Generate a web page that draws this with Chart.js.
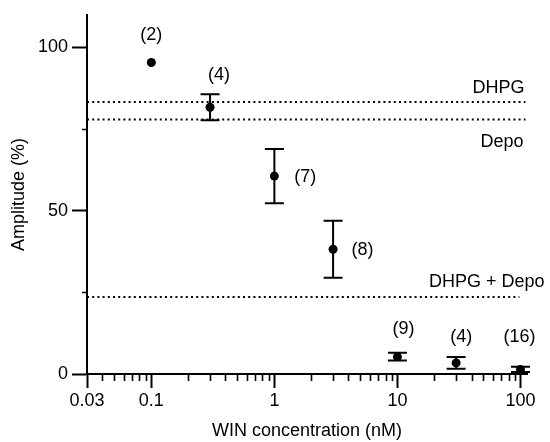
<!DOCTYPE html>
<html>
<head>
<meta charset="utf-8">
<script src="https://cdn.jsdelivr.net/npm/chart.js@4/dist/chart.umd.min.js"></script>
<style>
  html, body { margin: 0; padding: 0; background: #fff; }
  #wrap { width: 550px; height: 442px; }
</style>
</head>
<body>
<div id="wrap"><canvas id="c" width="550" height="442"></canvas></div>
<script>
// ---- data ----
const concentrations = [0.1, 0.3, 1, 3, 10, 30, 100];          // nM
const amplitudes     = [95.4, 81.7, 60.6, 38.2, 5.3, 3.4, 1.4];  // %
const errors         = [null, 4.0, 8.3, 8.7, 1.2, 1.8, 0.8];     // +/- %
const countLabels    = ['(2)', '(4)', '(7)', '(8)', '(9)', '(4)', '(16)'];
const countLabelX    = [0.1, 0.355, 1.78, 5.2, 11.2, 33, 98];
const countLabelY    = [103.9, 91.5, 60.2, 37.9, 13.9, 11.2, 11.2];

const refNames   = ['DHPG', 'Depo', 'DHPG + Depo'];
const refValues  = [83.3, 77.9, 23.6];
const refLineEnd = [110, 110, 98];
const refLabelX  = [108, 106, 157];
const refLabelY  = [87.6, 70.9, 28.2];

const xTickValues  = [0.03, 0.1, 1, 10, 100];
const xTickLabels  = ['0.03', '0.1', '1', '10', '100'];
const xMinorTicks  = [0.04, 0.05, 0.06, 0.07, 0.08, 0.09,
                      0.2, 0.3, 0.4, 0.5, 0.6, 0.7, 0.8, 0.9,
                      2, 3, 4, 5, 6, 7, 8, 9,
                      20, 30, 40, 50, 60, 70, 80, 90];
const yTickValues  = [0, 50, 100];
const yTickLabels  = ['0', '50', '100'];
const yMinorTicks  = [25, 75];

// ---- chart ----
const FONT = "'Liberation Sans', Arial, Helvetica, sans-serif";
Chart.defaults.font.family = FONT;
Chart.defaults.color = '#000';

const refDatasets = refValues.map((v, i) => ({
  type: 'line',
  label: refNames[i],
  data: [{x: 0.03, y: v}, {x: refLineEnd[i], y: v}],
  borderColor: '#000',
  borderWidth: 2,
  borderDash: [2, 3.2],
  pointRadius: 0,
  fill: false
}));

const extrasPlugin = {
  id: 'extras',
  afterDatasetsDraw(chart) {
    const ctx = chart.ctx;
    const xs = chart.scales.x, ys = chart.scales.y;
    ctx.save();
    // error bars
    ctx.strokeStyle = '#000';
    ctx.lineWidth = 2;
    const cap = 9.5;
    concentrations.forEach((c, i) => {
      const e = errors[i];
      if (e == null) return;
      const px = xs.getPixelForValue(c);
      const top = ys.getPixelForValue(amplitudes[i] + e);
      const bot = ys.getPixelForValue(amplitudes[i] - e);
      ctx.beginPath();
      ctx.moveTo(px, top); ctx.lineTo(px, bot);
      ctx.moveTo(px - cap, top); ctx.lineTo(px + cap, top);
      ctx.moveTo(px - cap, bot); ctx.lineTo(px + cap, bot);
      ctx.stroke();
    });
    // n labels
    ctx.fillStyle = '#000';
    ctx.font = '18px ' + FONT;
    ctx.textAlign = 'center';
    ctx.textBaseline = 'middle';
    countLabels.forEach((t, i) => {
      ctx.fillText(t, xs.getPixelForValue(countLabelX[i]), ys.getPixelForValue(countLabelY[i]));
    });
    // reference line labels
    ctx.textAlign = 'right';
    refNames.forEach((t, i) => {
      ctx.fillText(t, xs.getPixelForValue(refLabelX[i]), ys.getPixelForValue(refLabelY[i]));
    });
    ctx.restore();
  },
  afterDraw(chart) {
    const ctx = chart.ctx;
    const xs = chart.scales.x, ys = chart.scales.y;
    const area = chart.chartArea;
    ctx.save();
    ctx.strokeStyle = '#000';
    ctx.lineWidth = 1.6;
    ctx.beginPath();
    xMinorTicks.forEach(v => {
      const px = Math.round(xs.getPixelForValue(v)) + 0.5;
      ctx.moveTo(px, area.bottom);
      ctx.lineTo(px, area.bottom + 7);
    });
    yMinorTicks.forEach(v => {
      const py = Math.round(ys.getPixelForValue(v)) + 0.5;
      ctx.moveTo(area.left, py);
      ctx.lineTo(area.left - 5, py);
    });
    ctx.stroke();
    ctx.restore();
  }
};

new Chart(document.getElementById('c'), {
  data: {
    datasets: [
      {
        type: 'scatter',
        label: 'Amplitude',
        data: concentrations.map((c, i) => ({x: c, y: amplitudes[i]})),
        backgroundColor: '#000',
        borderColor: '#000',
        borderWidth: 0,
        pointRadius: 4.5,
        showLine: false
      },
      ...refDatasets
    ]
  },
  options: {
    responsive: false,
    devicePixelRatio: 1,
    animation: false,
    layout: { padding: { top: 10, right: 23, left: 0, bottom: 0 } },
    plugins: { legend: { display: false }, tooltip: { enabled: false } },
    scales: {
      x: {
        type: 'logarithmic',
        position: 'bottom',
        min: 0.03,
        max: 113,
        afterBuildTicks: s => { s.ticks = xTickValues.map(v => ({value: v})); },
        afterFit: s => { s.height = 68; },
        ticks: {
          autoSkip: false,
          maxRotation: 0,
          padding: 2,
          color: '#000',
          font: { size: 18 },
          callback: (v, i) => xTickLabels[i]
        },
        grid: { display: true, drawOnChartArea: false, drawTicks: true, tickLength: 14, tickWidth: 2, tickColor: '#000' },
        border: { display: true, width: 2, color: '#000' },
        title: { display: true, text: 'WIN concentration (nM)', color: '#000', font: { size: 18 }, padding: { top: 0, bottom: 0 } }
      },
      y: {
        type: 'linear',
        min: 0,
        max: 110,
        afterBuildTicks: s => { s.ticks = yTickValues.map(v => ({value: v})); },
        afterFit: s => { s.width = 87; },
        ticks: {
          padding: 4,
          color: '#000',
          font: { size: 18 },
          callback: (v, i) => yTickLabels[i]
        },
        grid: { display: true, drawOnChartArea: false, drawTicks: true, tickLength: 15, tickWidth: 2, tickColor: '#000' },
        border: { display: true, width: 2, color: '#000' },
        title: { display: true, text: 'Amplitude (%)', color: '#000', font: { size: 18 }, padding: { top: 8, bottom: 0 } }
      }
    }
  },
  plugins: [extrasPlugin]
});
</script>
</body>
</html>
